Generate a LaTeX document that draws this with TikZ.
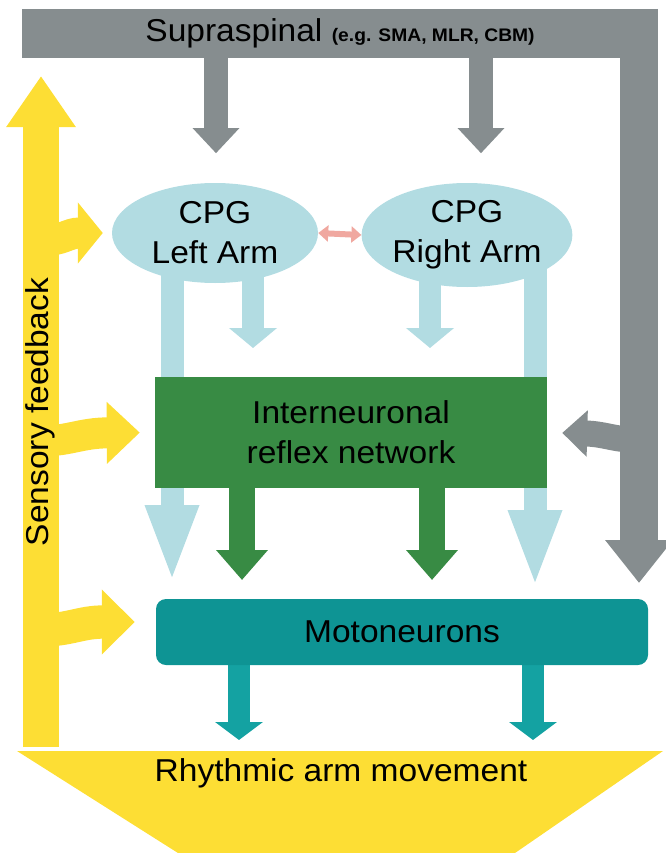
\documentclass[tikz,border=0pt]{standalone}
\usepackage{fontspec}
\setmainfont{Liberation Sans}[FakeStretch=1.06]
\usetikzlibrary{arrows.meta,shapes.geometric,calc,backgrounds}
\definecolor{supgray}{RGB}{134,141,143}
\definecolor{sensyellow}{RGB}{253,222,52}
\definecolor{cpgblue}{RGB}{178,220,226}
\definecolor{netgreen}{RGB}{56,139,68}
\definecolor{motteal}{RGB}{14,148,148}
\definecolor{outteal}{RGB}{20,162,162}
\definecolor{linkpink}{RGB}{240,168,160}
\begin{document}
\begin{tikzpicture}[x=0.3mm,y=-0.3mm,
    lbl/.style={font=\fontsize{27}{34}\selectfont, align=center, text=black},
    cpg/.style={ellipse, fill=cpgblue, inner sep=0pt, lbl},
    grayarrow/.style={draw=supgray, line width=7.2mm, -{Triangle[length=7.5mm,width=13.5mm]}},
    yelarrow/.style={draw=sensyellow, line width=9.3mm, -{Triangle[length=7.5mm,width=18mm]}},
    bluearrow/.style={draw=cpgblue, line width=6.6mm, -{Triangle[length=6mm,width=14.1mm]}},
    longblue/.style={draw=cpgblue, line width=6.9mm, -{Triangle[length=23.4mm,width=14.4mm]}},
    greenarrow/.style={draw=netgreen, line width=7.8mm, -{Triangle[length=9mm,width=15mm]}},
    tealarrow/.style={draw=outteal, line width=6.6mm, -{Triangle[length=5.4mm,width=14.1mm]}}]
    \useasboundingbox (0,0) rectangle (665,853);
    \coordinate (ybot) at (41,747);
    \coordinate (ytop) at (41,76);
    \coordinate (rtop) at (639,9);
    \coordinate (rbot) at (639,583);
    \node[lbl, rotate=90] (sens) at (40,412) {Sensory feedback};
    \node[lbl, fill=supgray, minimum width=190.8mm, minimum height=14.7mm, inner sep=0pt] (supra) at (340,33.5)
        {Supraspinal {\fontsize{15.5}{17}\selectfont\bfseries (e.g. SMA, MLR, CBM)}};
    \node[cpg, minimum width=61.8mm, minimum height=30mm] (lcpg) at (215,233) {CPG\\Left Arm};
    \node[cpg, minimum width=60mm, minimum height=31.2mm] (rcpg) at (467,235) {CPG\\Right Arm};
    \node[lbl, fill=netgreen, minimum width=117.6mm, minimum height=33.3mm, inner sep=0pt] (inet) at (351,432.5)
        {Interneuronal\\reflex network};
    \node[lbl, fill=motteal, rounded corners=3mm, minimum width=147.6mm, minimum height=19.8mm, inner sep=0pt] (moto) at (402,632) {Motoneurons};
    \node[lbl] (rhythm) at (341,773) {Rhythmic arm movement};
    \draw[draw=linkpink, line width=1.8mm, {Triangle[length=3mm,width=4.8mm]}-{Triangle[length=3mm,width=4.8mm]}] (lcpg.east) -- (rcpg.west);
    \begin{pgfonlayer}{background}
    \fill[sensyellow] (17,751) -- (663,751) -- (515,853) -- (178,853) -- cycle;
    \draw[yelarrow, line width=10.8mm, -{Triangle[length=15.3mm,width=19.8mm]}] (ybot) -- (ytop);
    \draw[grayarrow, line width=11.4mm, -{Triangle[length=12.9mm,width=19.5mm]}] (rtop) -- (rbot);
    \draw[grayarrow] (supra.south -| 216,0) -- ++(0,95);
    \draw[grayarrow] (supra.south -| 481,0) -- ++(0,95);
    \draw[grayarrow, line width=7.8mm, shorten >=4.5mm] (639,440) .. controls (615,440) and (605,434) .. (inet.east);
    \draw[yelarrow, shorten >=2.7mm] (41,241) .. controls (62,241) and (68,233) .. (lcpg.west);
    \draw[yelarrow, shorten >=4.5mm, -{Triangle[length=9.9mm,width=18mm]}] (41,441) .. controls (70,441) and (80,433) .. (inet.west);
    \draw[yelarrow, line width=10mm, shorten >=6.3mm, -{Triangle[length=9.9mm,width=18.9mm]}] (41,630) .. controls (70,630) and (80,622) .. ($(moto.west)+(0,-10)$);
    \draw[longblue] (lcpg.center -| 172,0) -- (172,583);
    \draw[longblue] (rcpg.center -| 535,0) -- (535,588);
    \draw[bluearrow] (lcpg.center -| 253,0) -- (253,348);
    \draw[bluearrow] (rcpg.center -| 430,0) -- (430,348);
    \draw[greenarrow] (inet.center -| 242,0) -- (242,580);
    \draw[greenarrow] (inet.center -| 432,0) -- (432,580);
    \draw[tealarrow] (moto.center -| 239,0) -- (239,740);
    \draw[tealarrow] (moto.center -| 533,0) -- (533,740);
    \end{pgfonlayer}
\end{tikzpicture}
\end{document}
